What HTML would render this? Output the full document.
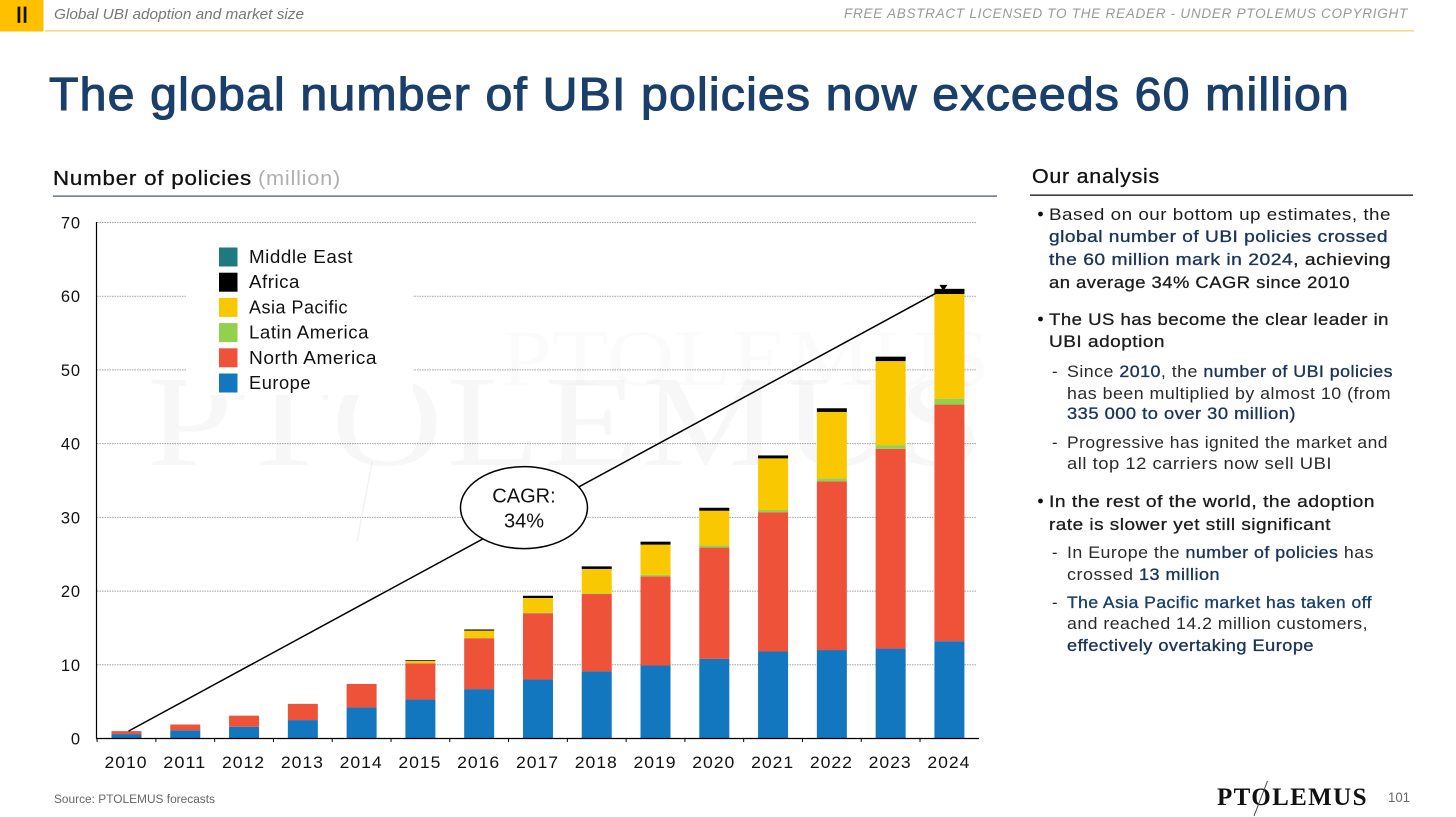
<!DOCTYPE html>
<html lang="en">
<head>
<meta charset="utf-8">
<title>The global number of UBI policies now exceeds 60 million</title>
<style>
html,body{margin:0;padding:0;background:#fff;width:1456px;height:817px;overflow:hidden}
svg{display:block}
text{font-family:"Liberation Sans",sans-serif;white-space:pre}
.b{font-size:17px;fill:#1c1c1c;font-weight:400;letter-spacing:.45px}
.s{font-size:16.5px;fill:#2a2a2a;font-weight:400;letter-spacing:.45px}
.n{fill:#1b3558;stroke:#1b3558;stroke-width:.35px}
.k{stroke:#1c1c1c;stroke-width:.3px}
.lg{font-size:18px;fill:#111;letter-spacing:.5px}
.tick{font-size:16.5px;fill:#111;letter-spacing:.9px}
.serif{font-family:"Liberation Serif",serif}
.ls1{letter-spacing:1.1px}
.ls2{letter-spacing:.7px}
</style>
</head>
<body>
<svg id="slide" xmlns="http://www.w3.org/2000/svg" width="1456" height="817" viewBox="0 0 1456 817">
  <rect width="1456" height="817" fill="#fff"/>

  <rect x="0" y="0" width="43.5" height="31.5" fill="#FFC000"/>
  <text x="22" y="22.5" text-anchor="middle" font-size="22" fill="#111" stroke="#111" stroke-width=".7">II</text>
  <rect x="45" y="30" width="1369" height="1.6" fill="#EFDD8A"/>
  <text x="54" y="19" font-size="15" font-style="italic" fill="#777" textLength="250" lengthAdjust="spacingAndGlyphs">Global UBI adoption and market size</text>
  <text class="ls2" x="844" y="18" font-size="13.5" font-style="italic" fill="#999" textLength="564" lengthAdjust="spacingAndGlyphs">FREE ABSTRACT LICENSED TO THE READER - UNDER PTOLEMUS COPYRIGHT</text>

  <text class="ls1" x="49" y="110" font-size="46" fill="#1B3F6B" stroke="#1B3F6B" stroke-width="1.1" textLength="1301" lengthAdjust="spacingAndGlyphs">The global number of UBI policies now exceeds 60 million</text>

  <text class="ls2" x="53" y="185" font-size="20" fill="#111" stroke="#111" stroke-width=".3" textLength="199" lengthAdjust="spacingAndGlyphs">Number of policies</text>
  <text class="ls2" x="258" y="185" font-size="20" fill="#AFAFAF" textLength="83" lengthAdjust="spacingAndGlyphs">(million)</text>
  <rect x="53" y="195.5" width="944" height="1.2" fill="#3D5268"/>

  <g id="grid"></g>

  <g>
    <text class="serif" x="147" y="465" font-size="130" fill="#000" fill-opacity=".032" letter-spacing="3" textLength="840" lengthAdjust="spacingAndGlyphs">PTOLEMUS</text>
    <text class="serif" x="500" y="385" font-size="80" fill="#000" fill-opacity=".016" textLength="490" lengthAdjust="spacingAndGlyphs">PTOLEMUS</text>
    <line x1="397" y1="332" x2="384" y2="392" stroke="#000" stroke-opacity=".05" stroke-width="1.5"/>
    <line x1="372" y1="462" x2="357" y2="542" stroke="#000" stroke-opacity=".05" stroke-width="1.5"/>
  </g>

  <rect x="186" y="240" width="227" height="155" fill="#fff"/>
  <g id="bars"></g>
  <g id="axes"></g>
  <g id="trend"></g>
  <g id="legend"></g>

  <text x="54" y="803" font-size="11.5" fill="#666" textLength="161" lengthAdjust="spacingAndGlyphs">Source: PTOLEMUS forecasts</text>

  <text class="ls2" x="1032" y="183" font-size="20" fill="#111" stroke="#111" stroke-width=".3" textLength="128" lengthAdjust="spacingAndGlyphs">Our analysis</text>
  <rect x="1030" y="194.5" width="383" height="1.3" fill="#111"/>

  <g>
    <circle cx="1040.5" cy="214" r="2.4" fill="#111"/>
    <text class="b" x="1049" y="220" textLength="342" lengthAdjust="spacingAndGlyphs">Based on our bottom up estimates, the</text>
    <text class="b n" x="1049" y="242" textLength="339" lengthAdjust="spacingAndGlyphs">global number of UBI policies crossed</text>
    <text class="b" x="1049" y="265" textLength="342" lengthAdjust="spacingAndGlyphs"><tspan class="n">the 60 million mark in 2024</tspan><tspan class="k">, achieving</tspan></text>
    <text class="b k" x="1049" y="288" textLength="301" lengthAdjust="spacingAndGlyphs">an average 34% CAGR since 2010</text>

    <circle cx="1040.5" cy="319" r="2.4" fill="#111"/>
    <text class="b k" x="1049" y="325" textLength="340" lengthAdjust="spacingAndGlyphs">The US has become the clear leader in</text>
    <text class="b k" x="1049" y="347" textLength="116" lengthAdjust="spacingAndGlyphs">UBI adoption</text>

    <text class="s" x="1052" y="377">-</text>
    <text class="s" x="1067" y="377" textLength="326" lengthAdjust="spacingAndGlyphs">Since <tspan class="n">2010</tspan>, the <tspan class="n">number of UBI policies</tspan></text>
    <text class="s" x="1067" y="399" textLength="324" lengthAdjust="spacingAndGlyphs">has been multiplied by almost 10 (from</text>
    <text class="s n" x="1067" y="419" textLength="229" lengthAdjust="spacingAndGlyphs">335 000 to over 30 million)</text>

    <text class="s" x="1052" y="448">-</text>
    <text class="s" x="1067" y="448" textLength="321" lengthAdjust="spacingAndGlyphs">Progressive has ignited the market and</text>
    <text class="s" x="1067" y="469" textLength="265" lengthAdjust="spacingAndGlyphs">all top 12 carriers now sell UBI</text>

    <circle cx="1040.5" cy="501" r="2.4" fill="#111"/>
    <text class="b k" x="1049" y="507" textLength="326" lengthAdjust="spacingAndGlyphs">In the rest of the world, the adoption</text>
    <text class="b k" x="1049" y="530" textLength="282" lengthAdjust="spacingAndGlyphs">rate is slower yet still significant</text>

    <text class="s" x="1052" y="558">-</text>
    <text class="s" x="1067" y="558" textLength="307" lengthAdjust="spacingAndGlyphs">In Europe the <tspan class="n">number of policies</tspan> has</text>
    <text class="s" x="1067" y="580" textLength="153" lengthAdjust="spacingAndGlyphs">crossed <tspan class="n">13 million</tspan></text>

    <text class="s" x="1052" y="608">-</text>
    <text class="s" x="1067" y="608" textLength="305" lengthAdjust="spacingAndGlyphs" style="fill:#1B3F6B;stroke:#1B3F6B;stroke-width:.35px">The Asia Pacific market has taken off</text>
    <text class="s" x="1067" y="629" textLength="301" lengthAdjust="spacingAndGlyphs">and reached 14.2 million customers,</text>
    <text class="s n" x="1067" y="651" textLength="247" lengthAdjust="spacingAndGlyphs">effectively overtaking Europe</text>
  </g>

  <g>
    <text class="serif" x="1217" y="805" font-size="25" font-weight="700" fill="#111" letter-spacing="1.5" textLength="151" lengthAdjust="spacing">PTOLEMUS</text>
    <line x1="1267.5" y1="781" x2="1254" y2="816" stroke="#444" stroke-width="1"/>
  </g>
  <text x="1388" y="802" font-size="14" fill="#666" textLength="22" lengthAdjust="spacingAndGlyphs">101</text>
</svg>

<script>
const categories = ["2010","2011","2012","2013","2014","2015","2016","2017","2018","2019","2020","2021","2022","2023","2024"];
const europe       = [0.6,1.1,1.6,2.5,4.2,5.3,6.7,8.0,9.1,9.9,10.8,11.8,12.0,12.2,13.2];
const northAmerica = [0.4,0.8,1.5,2.2,3.2,4.9,6.9,9.0,10.5,12.1,15.1,18.9,22.9,27.1,32.1];
const latinAmerica = [0,0,0,0,0,0.02,0.04,0.06,0.1,0.2,0.3,0.3,0.4,0.5,0.8];
const asiaPacific  = [0,0,0,0,0,0.3,1.0,2.0,3.3,4.1,4.7,7.0,9.0,11.4,14.2];
const africa       = [0,0,0,0,0,0.1,0.15,0.3,0.35,0.4,0.4,0.4,0.5,0.6,0.7];
const middleEast   = [0,0,0,0,0,0,0,0,0,0,0,0,0,0,0];
const yTicks = [0,10,20,30,40,50,60,70];
const legendLabels = ["Middle East","Africa","Asia Pacific","Latin America","North America","Europe"];
const cagrLabel = ["CAGR:","34%"];

const NS = "http://www.w3.org/2000/svg";
const yScale = v => 738.5 - v * (516 / 70);
const xScale = i => 126.5 + i * 58.78;
const BAR_W = 30;

function mk(tag, attrs, parent) {
  const el = document.createElementNS(NS, tag);
  for (const k in attrs) el.setAttribute(k, attrs[k]);
  parent.appendChild(el);
  return el;
}

const grid = document.getElementById("grid");
const axes = document.getElementById("axes");
const bars = document.getElementById("bars");
const trend = document.getElementById("trend");
const legend = document.getElementById("legend");

yTicks.forEach(t => {
  if (t > 0) {
    const g = mk("line", {x1:97, x2:977, y1:yScale(t), y2:yScale(t), stroke:"#a3a3a3", "stroke-width":1, "stroke-dasharray":"1.5 1"}, grid);
    
    
  }
  const lab = mk("text", {class:"tick", x:81, y:yScale(t)+6, "text-anchor":"end"}, axes);
  
  
  lab.textContent = t;
});

const stack = [
  {name:"europe", values:europe, color:"#1277BE"},
  {name:"north-america", values:northAmerica, color:"#EE533A"},
  {name:"latin-america", values:latinAmerica, color:"#92D050"},
  {name:"asia-pacific", values:asiaPacific, color:"#FAC800"},
  {name:"africa", values:africa, color:"#000000"},
  {name:"middle-east", values:middleEast, color:"#1F7A7F"}
];
const totals = categories.map((c, i) => stack.reduce((s, d) => s + d.values[i], 0));

categories.forEach((c, i) => {
  let base = 0;
  stack.forEach(series => {
    const v = series.values[i];
    if (v > 0) {
      const r = mk("rect", {x:xScale(i)-BAR_W/2, y:yScale(base+v), width:BAR_W, height:yScale(base)-yScale(base+v), fill:series.color}, bars);
      
      
    }
    base += v;
  });
  const tl = mk("text", {class:"tick", x:xScale(i)-.5, y:768, "text-anchor":"middle", textLength:43, lengthAdjust:"spacingAndGlyphs"}, axes);
  
  
  tl.textContent = c;
  const tick = mk("line", {x1:xScale(i)-29.4, x2:xScale(i)-29.4, y1:738.5, y2:742, stroke:"#000", "stroke-width":1}, axes);
  
  
});

const yAxis = mk("line", {x1:96.5, x2:96.5, y1:222, y2:739, stroke:"#000", "stroke-width":1.2}, axes);


const xAxis = mk("line", {x1:96, x2:979, y1:738.5, y2:738.5, stroke:"#000", "stroke-width":1.2}, axes);



const last = categories.length - 1;
const x0 = xScale(0) + 2, y0 = yScale(totals[0]);
const x1 = xScale(last) - 5.5, y1 = yScale(totals[last]);
const tl = mk("line", {x1:x0, y1:y0, x2:x1, y2:y1, stroke:"#000", "stroke-width":1.5}, trend);


const arrow = mk("polygon", {points:`${x1-4.5},${y1-4} ${x1+3.5},${y1-4} ${x1-.5},${y1+2}`, fill:"#000"}, trend);


const ex = x0 + (x1 - x0) * 0.485, ey = y0 + (y1 - y0) * 0.485 - 9;
const ell = mk("ellipse", {cx:ex, cy:ey, rx:63.5, ry:41, fill:"#fff", stroke:"#000", "stroke-width":1.5}, trend);


cagrLabel.forEach((t, i) => {
  const lb = mk("text", {x:ex, y:ey - 5 + i * 25, "text-anchor":"middle", "font-size":20, fill:"#111"}, trend);
  
  
  lb.textContent = t;
});

const legendColors = ["#1F7A7F","#000000","#FAC800","#92D050","#EE533A","#1277BE"];
const legendWidths = [104,51,99,120,128,62];
legendLabels.forEach((t, i) => {
  const cy = 257 + i * 25.2;
  const sw = mk("rect", {x:219, y:cy-9.5, width:18.5, height:19, fill:legendColors[i]}, legend);
  
  
  const lb = mk("text", {class:"lg", x:249, y:cy+6, textLength:legendWidths[i], lengthAdjust:"spacingAndGlyphs"}, legend);
  
  
  lb.textContent = t;
});
</script>
</body>
</html>
